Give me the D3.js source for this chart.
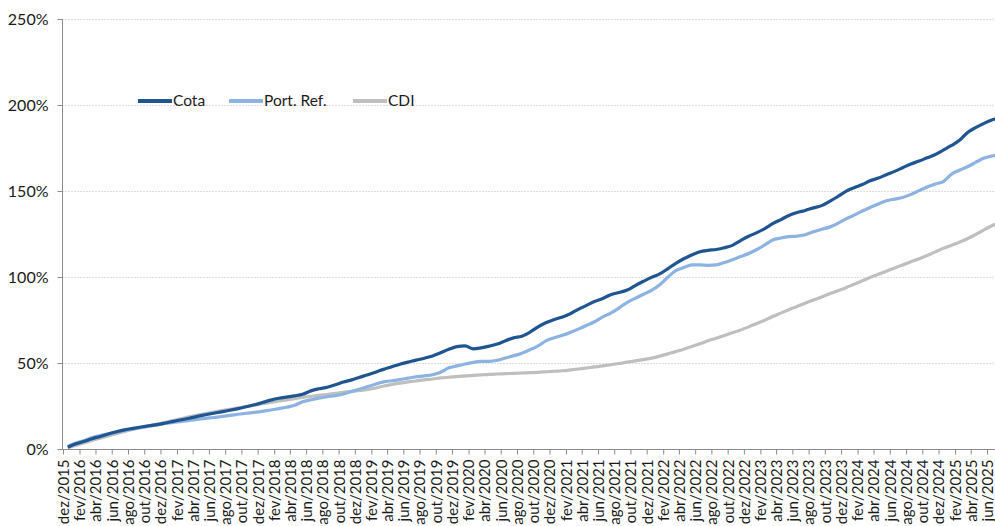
<!DOCTYPE html>
<html>
<head>
<meta charset="utf-8">
<script src="https://cdn.jsdelivr.net/npm/d3@7"></script>
<style>
  body { margin: 0; background: #fff; }
  .chart text { font-family: Lato, "Open Sans", sans-serif; fill: #1a1a1a; }
</style>
</head>
<body>
<div class="chart"></div>
<script>
const WIDTH = 995;
const HEIGHT = 526;
const LEFT = 62;
const TOP = 19;
const BOTTOM_Y = 449;

// monthly points, first one is dez/2015
const START_MONTH = new Date(2015, 11, 19);

const cota = [
  1.0, 3.0, 4.5, 6.0, 7.3, 8.7, 10.0, 11.1, 12.0, 12.8, 13.5, 14.2,
  15.1, 16.1, 17.0, 17.9, 19.0, 19.9, 20.8, 21.6, 22.5, 23.5, 24.6, 25.7,
  27.0, 28.4, 29.5, 30.2, 30.9, 31.8, 33.8, 35.0, 35.9, 37.3, 38.9, 40.2,
  41.7, 43.2, 44.8, 46.3, 47.8, 49.3, 50.5, 51.7, 52.8, 54.1, 56.0, 58.0,
  59.5, 59.9, 58.2, 58.8, 59.8, 61.0, 63.0, 64.6, 65.6, 68.0, 71.0, 73.5,
  75.3, 76.8, 78.8, 81.2, 83.5, 85.7, 87.5, 89.7, 91.0, 92.4, 95.0, 97.5,
  99.8, 101.8, 104.9, 107.8, 110.6, 112.8, 114.7, 115.5, 116.0, 117.0, 118.4, 121.2,
  123.7, 125.8, 128.3, 131.0, 133.4, 135.8, 137.5, 138.7, 140.2, 141.5, 144.0, 146.8,
  149.8, 151.9, 153.8, 155.9, 157.5, 159.5, 161.4, 163.5, 165.7, 167.4, 169.3, 171.2,
  173.8, 176.5, 179.6, 183.9, 186.8, 189.2, 191.3, 192.8
];

const portRef = [
  1.5, 3.5, 5.0, 6.6, 7.8, 8.9, 9.8, 10.8, 11.6, 12.4, 13.2, 14.0,
  14.8, 15.5, 16.0, 16.6, 17.2, 17.8, 18.3, 18.9, 19.5, 20.2, 20.8, 21.3,
  21.9, 22.7, 23.5, 24.3, 25.4, 27.5, 28.6, 29.6, 30.4, 31.0, 32.0, 33.4,
  34.8, 36.3, 37.8, 39.0, 39.7, 40.3, 41.2, 42.0, 42.5, 43.2, 44.6, 47.2,
  48.3, 49.4, 50.4, 50.9, 51.0, 51.6, 52.9, 54.2, 55.7, 57.7, 59.9, 63.0,
  64.7, 66.1, 67.9, 69.7, 71.8, 74.0, 76.8, 79.0, 82.0, 85.3, 87.6, 90.0,
  92.2, 95.5, 100.0, 103.5, 105.5, 107.0, 107.0, 106.8, 107.0, 108.4, 110.0, 111.9,
  113.7, 116.0, 118.8, 121.5, 122.7, 123.5, 123.8, 124.6, 126.3, 127.8, 129.0, 131.2,
  133.8, 136.0, 138.4, 140.4, 142.5, 144.3, 145.3, 146.2, 148.0, 150.2, 152.3, 154.1,
  155.5, 159.8, 162.2, 164.1, 166.6, 169.0, 170.3, 171.3
];

const cdi = [
  0.8, 2.2, 3.6, 5.0, 6.3, 7.6, 8.9, 10.2, 11.4, 12.5, 13.5, 14.5,
  15.5, 16.6, 17.7, 18.7, 19.7, 20.6, 21.5, 22.3, 23.1, 23.9, 24.7, 25.5,
  26.3, 27.1, 27.9, 28.6, 29.3, 30.0, 30.6, 31.2, 31.7, 32.3, 32.9, 33.5,
  34.0, 34.6, 35.5, 36.6, 37.5, 38.3, 39.0, 39.6, 40.2, 40.7, 41.3, 41.7,
  42.1, 42.5, 42.8, 43.1, 43.4, 43.6, 43.8, 44.0, 44.2, 44.4, 44.6, 44.9,
  45.2, 45.5, 46.0, 46.5, 47.1, 47.7, 48.3, 49.0, 49.7, 50.5, 51.2, 52.0,
  52.8, 54.0, 55.3, 56.6, 58.0, 59.6, 61.2, 62.9, 64.4, 66.0, 67.6, 69.2,
  71.0, 73.0, 75.0, 77.0, 79.0, 81.0, 82.9, 84.8, 86.6, 88.4, 90.2, 92.0,
  93.8, 95.8, 97.8, 99.7, 101.6, 103.4, 105.2, 107.0, 108.8, 110.6, 112.5, 114.6,
  116.7, 118.5, 120.3, 122.2, 124.7, 127.3, 129.8, 132.0
];

const seriesNames = ["Cota", "Port. Ref.", "CDI"];
const seriesColors = ["#1f5591", "#8db3e2", "#bfbfbf"];

const yTicks = [0, 50, 100, 150, 200, 250];

const monthLabels = ["jan", "fev", "mar", "abr", "mai", "jun", "jul", "ago", "set", "out", "nov", "dez"];
const tickLabels = [
  "dez/2015", "fev/2016", "abr/2016", "jun/2016", "ago/2016", "out/2016",
  "dez/2016", "fev/2017", "abr/2017", "jun/2017", "ago/2017", "out/2017",
  "dez/2017", "fev/2018", "abr/2018", "jun/2018", "ago/2018", "out/2018",
  "dez/2018", "fev/2019", "abr/2019", "jun/2019", "ago/2019", "out/2019",
  "dez/2019", "fev/2020", "abr/2020", "jun/2020", "ago/2020", "out/2020",
  "dez/2020", "fev/2021", "abr/2021", "jun/2021", "ago/2021", "out/2021",
  "dez/2021", "fev/2022", "abr/2022", "jun/2022", "ago/2022", "out/2022",
  "dez/2022", "fev/2023", "abr/2023", "jun/2023", "ago/2023", "out/2023",
  "dez/2023", "fev/2024", "abr/2024", "jun/2024", "ago/2024", "out/2024",
  "dez/2024", "fev/2025", "abr/2025", "jun/2025"
];

var parseTick = function(label) {
  var parts = label.split("/");
  return new Date(+parts[1], monthLabels.indexOf(parts[0]), 1);
};

var tickDates = tickLabels.map(parseTick);

var xScale = d3.scaleTime()
  .domain([tickDates[0], tickDates[tickDates.length - 1]])
  .range([63, 987]);

var yScale = d3.scaleLinear()
  .domain([0, 250])
  .range([BOTTOM_Y, TOP]);

var dates = cota.map(function(d, i) { return d3.timeMonth.offset(START_MONTH, i); });

var svg = d3.select(".chart").append("svg")
  .attr("width", WIDTH)
  .attr("height", HEIGHT);

// gridlines
svg.append("g").selectAll("line")
  .data(yTicks.slice(1))
  .enter().append("line")
  .attr("x1", LEFT).attr("x2", WIDTH)
  .attr("y1", function(d) { return yScale(d) + 0.5; })
  .attr("y2", function(d) { return yScale(d) + 0.5; })
  .attr("stroke", "#dedede")
  .attr("stroke-dasharray", "2,1");

// y axis
var yAxis = d3.axisLeft(yScale)
  .tickValues(yTicks)
  .tickSize(5)
  .tickPadding(9)
  .tickFormat(function(d) { return d + "%"; });

var gy = svg.append("g")
  .attr("transform", "translate(" + (LEFT + 0.5) + ",0)")
  .call(yAxis);
gy.select(".domain").attr("stroke", "#8c8c8c").attr("d", "M0," + TOP + "V" + BOTTOM_Y);
gy.selectAll(".tick line").attr("stroke", "#8c8c8c");
gy.selectAll(".tick text").style("font-size", "16px").attr("fill", "#1a1a1a");

// x axis
var xAxis = d3.axisBottom(xScale)
  .tickValues(tickDates)
  .tickSize(5)
  .tickFormat(function(d, i) { return tickLabels[i]; });

var gx = svg.append("g")
  .attr("transform", "translate(0," + (BOTTOM_Y + 0.5) + ")")
  .call(xAxis);
gx.select(".domain").attr("stroke", "#8c8c8c").attr("d", "M" + LEFT + ",0H" + WIDTH);
gx.selectAll(".tick line").attr("stroke", "#8c8c8c");
gx.selectAll(".tick text")
  .style("font-size", "15px")
  .attr("fill", "#1a1a1a")
  .attr("text-anchor", "end")
  .attr("transform", "rotate(-90)")
  .attr("x", -10)
  .attr("y", 0)
  .attr("dy", "0.36em");

// lines
var allSeries = [cota, portRef, cdi];
var line = d3.line()
  .x(function(d, i) { return xScale(dates[i]); })
  .y(function(d) { return yScale(d); })
  .curve(d3.curveMonotoneX);

svg.append("g").selectAll("path")
  .data(allSeries.slice().reverse())
  .enter().append("path")
  .attr("d", line)
  .attr("fill", "none")
  .attr("stroke", function(d, i) { return seriesColors[2 - i]; })
  .attr("stroke-width", 3.2)
  .attr("stroke-linejoin", "round");

// legend
var legendX = [138, 229, 353];
var legend = svg.append("g").selectAll("g")
  .data(seriesNames)
  .enter().append("g")
  .attr("transform", function(d, i) { return "translate(" + legendX[i] + ",101)"; });

legend.append("line")
  .attr("x1", 0).attr("x2", 34)
  .attr("stroke", function(d, i) { return seriesColors[i]; })
  .attr("stroke-width", 4);

legend.append("text")
  .attr("x", 35)
  .attr("dy", "0.35em")
  .style("font-size", "15.5px")
  .text(function(d) { return d; });
</script>
</body>
</html>
